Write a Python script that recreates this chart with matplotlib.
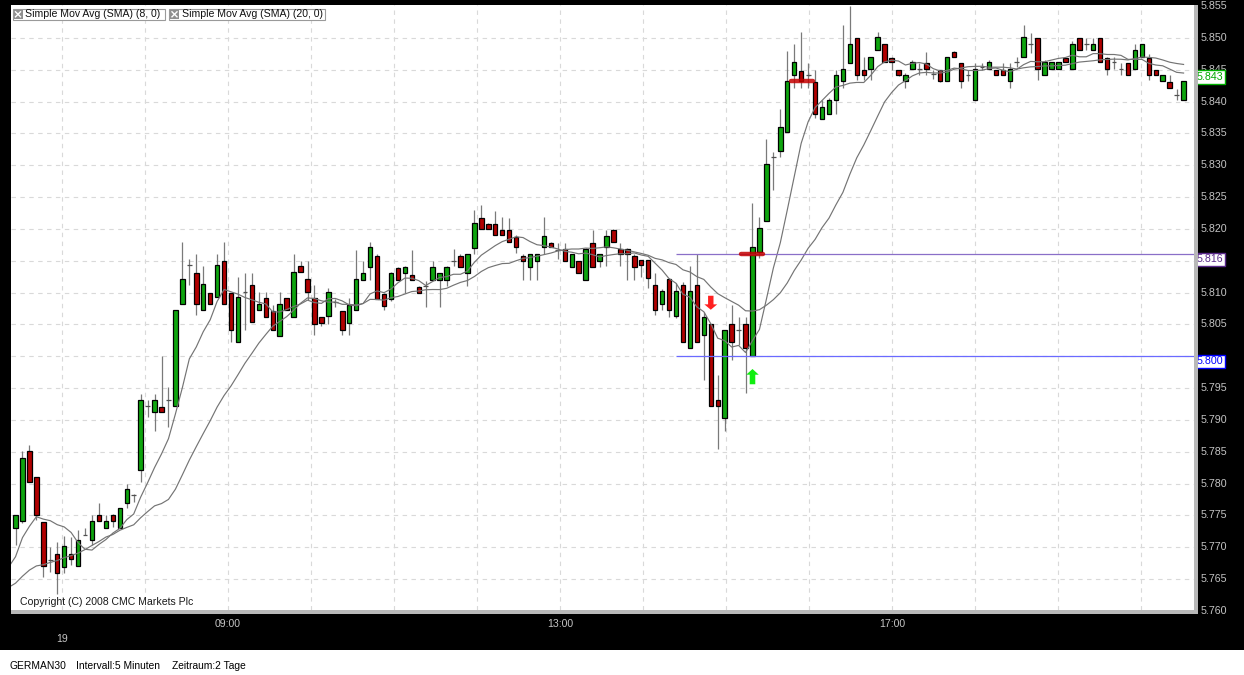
import numpy as np
import pandas as pd
import matplotlib
matplotlib.use("Agg")
import matplotlib.pyplot as plt
from matplotlib.patches import Rectangle
from matplotlib.lines import Line2D

plt.rcParams["font.family"] = ["Liberation Sans", "DejaVu Sans"]

# GERMAN30, 5 minute candles, index points
opens = [
    5773.0, 5774.1, 5785.1, 5781.0, 5773.9, 5768.0, 5768.9, 5766.9, 5768.9, 5767.0,
    5772.0, 5771.1, 5775.0, 5773.1, 5775.0, 5773.1, 5777.0, 5778.2, 5782.1, 5792.2,
    5791.2, 5792.0, 5793.2, 5792.2, 5808.2, 5814.3, 5813.0, 5807.2, 5810.0, 5809.3,
    5815.0, 5810.0, 5802.2, 5810.1, 5811.2, 5807.2, 5809.1, 5807.1, 5803.2, 5809.1,
    5806.2, 5814.1, 5812.1, 5809.1, 5806.1, 5806.3, 5808.5, 5807.1, 5805.2, 5807.3,
    5812.0, 5814.0, 5815.8, 5809.8, 5809.0, 5813.9, 5813.0, 5812.8, 5810.9, 5811.0,
    5812.0, 5812.0, 5812.0, 5815.0, 5815.8, 5813.0, 5817.0, 5821.7, 5820.8, 5820.8,
    5819.9, 5819.9, 5818.8, 5815.8, 5814.0, 5815.0, 5817.1, 5817.8, 5816.7, 5816.9,
    5814.0, 5814.9, 5812.0, 5817.8, 5815.0, 5817.1, 5819.9, 5816.9, 5816.9, 5815.8,
    5815.1, 5815.1, 5811.2, 5808.2, 5812.1, 5806.3, 5811.2, 5801.3, 5811.2, 5803.4,
    5805.0, 5793.1, 5790.3, 5805.0, 5804.2, 5805.0, 5800.1, 5816.3, 5821.2, 5831.3,
    5832.2, 5835.2, 5844.2, 5844.8, 5844.2, 5843.0, 5837.2, 5838.1, 5840.2, 5843.2,
    5846.1, 5849.9, 5844.9, 5845.1, 5848.1, 5849.0, 5846.9, 5844.9, 5843.2, 5845.1,
    5845.1, 5846.0, 5844.3, 5844.9, 5843.2, 5847.8, 5846.0, 5844.1, 5840.2, 5845.5,
    5845.1, 5844.9, 5844.9, 5843.2, 5846.2, 5847.0, 5849.1, 5849.9, 5844.1, 5845.1,
    5845.1, 5846.9, 5845.1, 5849.9, 5849.1, 5848.1, 5849.9, 5846.9, 5846.2, 5845.1,
    5846.0, 5845.1, 5847.0, 5846.9, 5844.9, 5843.2, 5843.0, 5841.0, 5840.2,
]
highs = [
    5775.1, 5785.1, 5786.0, 5781.0, 5774.0, 5770.1, 5770.8, 5771.7, 5771.6, 5772.7,
    5773.0, 5775.0, 5776.9, 5775.0, 5775.3, 5776.1, 5780.0, 5778.4, 5794.0, 5793.1,
    5794.0, 5800.0, 5795.2, 5807.2, 5818.0, 5815.2, 5816.0, 5814.1, 5810.0, 5816.0,
    5818.0, 5810.0, 5812.5, 5813.0, 5813.0, 5810.1, 5810.1, 5808.0, 5810.1, 5809.1,
    5816.0, 5815.0, 5815.0, 5811.2, 5806.1, 5810.7, 5809.0, 5807.1, 5809.1, 5816.7,
    5814.9, 5817.9, 5816.0, 5810.0, 5813.2, 5814.0, 5814.2, 5816.7, 5811.0, 5811.8,
    5814.9, 5813.0, 5814.2, 5816.9, 5816.0, 5816.0, 5822.9, 5823.8, 5821.0, 5822.8,
    5821.9, 5821.7, 5819.0, 5816.0, 5816.0, 5816.0, 5821.8, 5818.0, 5817.8, 5817.8,
    5816.0, 5815.0, 5817.0, 5819.9, 5816.0, 5819.9, 5820.0, 5817.8, 5817.0, 5816.0,
    5815.1, 5815.1, 5813.0, 5810.5, 5812.3, 5811.5, 5811.7, 5814.2, 5816.1, 5807.0,
    5805.0, 5797.1, 5804.2, 5808.1, 5806.2, 5806.2, 5824.1, 5821.9, 5834.1, 5832.1,
    5838.9, 5847.9, 5849.0, 5850.9, 5846.1, 5844.9, 5840.3, 5840.5, 5844.9, 5852.0,
    5855.0, 5849.9, 5847.0, 5847.0, 5850.9, 5849.0, 5847.0, 5845.0, 5844.5, 5846.5,
    5846.0, 5847.8, 5845.0, 5845.0, 5847.0, 5848.0, 5846.0, 5845.0, 5846.0, 5846.0,
    5846.5, 5845.0, 5846.0, 5846.0, 5847.0, 5852.0, 5850.8, 5850.0, 5846.5, 5846.2,
    5846.2, 5847.0, 5849.5, 5850.0, 5849.9, 5849.9, 5850.0, 5847.0, 5847.0, 5846.0,
    5846.0, 5849.1, 5849.1, 5847.5, 5845.0, 5844.1, 5844.1, 5842.0, 5843.2,
]
lows = [
    5770.3, 5773.8, 5780.2, 5774.3, 5765.4, 5766.1, 5762.6, 5766.0, 5767.2, 5767.0,
    5772.0, 5770.3, 5774.1, 5773.1, 5773.2, 5773.1, 5776.1, 5777.1, 5780.2, 5790.5,
    5788.2, 5791.2, 5788.9, 5792.2, 5808.2, 5811.2, 5806.4, 5807.2, 5808.2, 5809.3,
    5808.2, 5802.3, 5802.2, 5804.1, 5805.3, 5807.2, 5806.2, 5804.2, 5803.2, 5807.2,
    5806.2, 5813.2, 5808.8, 5803.3, 5804.8, 5805.0, 5807.8, 5803.3, 5803.3, 5807.3,
    5812.0, 5812.0, 5809.0, 5807.2, 5808.7, 5812.0, 5810.0, 5812.0, 5810.0, 5807.8,
    5812.0, 5807.8, 5811.0, 5814.1, 5814.0, 5811.0, 5816.0, 5820.0, 5820.0, 5819.0,
    5819.0, 5818.0, 5816.2, 5812.0, 5812.0, 5812.0, 5816.0, 5817.1, 5815.2, 5815.0,
    5814.0, 5813.0, 5812.0, 5814.0, 5814.0, 5814.1, 5818.0, 5814.1, 5812.0, 5812.0,
    5812.5, 5810.7, 5806.5, 5807.3, 5806.2, 5806.0, 5802.2, 5801.3, 5802.2, 5796.3,
    5792.2, 5785.4, 5788.2, 5799.4, 5801.8, 5794.2, 5800.1, 5815.4, 5821.2, 5826.1,
    5831.3, 5835.2, 5842.1, 5842.1, 5842.1, 5837.4, 5837.2, 5838.1, 5838.1, 5842.1,
    5846.1, 5843.4, 5843.4, 5843.4, 5848.1, 5846.2, 5844.9, 5844.0, 5842.1, 5845.1,
    5844.1, 5844.1, 5843.6, 5843.0, 5843.2, 5847.0, 5842.1, 5843.2, 5840.2, 5845.0,
    5845.1, 5844.1, 5844.1, 5842.1, 5845.5, 5847.0, 5847.6, 5843.4, 5844.1, 5845.1,
    5845.1, 5846.2, 5845.1, 5848.1, 5848.1, 5848.1, 5846.2, 5844.1, 5845.1, 5844.1,
    5844.1, 5845.1, 5847.0, 5843.4, 5844.1, 5843.2, 5842.1, 5840.2, 5840.2,
]
closes = [
    5775.1, 5784.0, 5780.2, 5775.1, 5767.0, 5768.0, 5766.0, 5770.2, 5768.1, 5771.1,
    5772.0, 5774.1, 5774.1, 5774.1, 5774.1, 5776.1, 5779.1, 5778.2, 5793.2, 5792.2,
    5793.2, 5791.2, 5793.2, 5807.2, 5812.2, 5814.3, 5808.2, 5811.3, 5808.2, 5814.3,
    5808.2, 5804.2, 5809.3, 5810.1, 5805.3, 5808.2, 5806.2, 5804.2, 5808.2, 5807.2,
    5813.2, 5813.2, 5810.1, 5805.1, 5805.2, 5810.1, 5808.5, 5804.1, 5808.1, 5812.2,
    5813.0, 5817.1, 5809.0, 5807.9, 5813.0, 5812.0, 5814.0, 5812.0, 5810.0, 5811.0,
    5814.0, 5813.0, 5814.0, 5815.0, 5814.0, 5816.0, 5821.0, 5820.0, 5820.0, 5819.0,
    5819.0, 5818.0, 5817.1, 5815.0, 5816.0, 5816.0, 5818.9, 5817.1, 5816.7, 5815.0,
    5816.0, 5813.0, 5816.9, 5814.0, 5816.0, 5818.9, 5818.0, 5816.0, 5816.0, 5814.0,
    5814.3, 5812.3, 5807.3, 5810.3, 5807.3, 5810.2, 5802.2, 5810.2, 5802.2, 5806.2,
    5792.2, 5792.2, 5804.2, 5802.2, 5804.2, 5801.3, 5817.2, 5820.2, 5830.2, 5831.3,
    5836.0, 5843.2, 5846.2, 5843.2, 5844.2, 5838.1, 5839.1, 5840.2, 5844.1, 5845.1,
    5849.1, 5844.1, 5844.1, 5847.0, 5850.1, 5846.2, 5846.2, 5844.1, 5844.1, 5846.2,
    5845.1, 5845.1, 5844.3, 5843.2, 5847.0, 5847.0, 5843.2, 5844.1, 5845.1, 5845.5,
    5846.2, 5844.1, 5844.1, 5845.1, 5846.2, 5850.1, 5849.1, 5845.1, 5846.2, 5846.2,
    5846.2, 5846.2, 5849.1, 5848.1, 5849.1, 5849.1, 5846.2, 5845.1, 5846.2, 5845.1,
    5844.1, 5848.1, 5849.1, 5844.1, 5844.1, 5844.1, 5842.1, 5841.0, 5843.2,
]
# closes before the visible window, estimated from where the SMA lines start
prev_closes = [5762, 5762, 5761, 5762, 5763, 5761, 5760, 5761, 5762, 5763,
               5761, 5761, 5762, 5760, 5766, 5763, 5770, 5770, 5771, 5773]

date_label = "19"
time_labels = ["09:00", "13:00", "17:00"]
sma_periods = [8, 20]
level_lines = [(5816.0, "5.816", "#8a6fc8", "#5a2a8a"), (5800.0, "5.800", "#6a6aff", "#0000ff")]
hidden_ticks = [5815, 5800]  # covered by the level boxes
order_marks = [(104.3, 107.5, 5816.0), (111.6, 114.7, 5843.3)]
sell_signal = (100, 5809.5, 5807.3)
buy_signal = (106, 5795.6, 5798.0)

W, H = 1244, 675


def fx(px):
    return px / W


def fy(py):
    return 1 - py / H


fig = plt.figure(figsize=(W / 100, H / 100), dpi=100, facecolor="black")
ax = fig.add_axes([fx(10.5), fy(610), (1194 - 10.5) / W, (610 - 5) / H])
ax.set_facecolor("white")
for s in ax.spines.values():
    s.set_visible(False)
ax.set_xlim(-0.72, 169.5)
ax.set_ylim(5760.15, 5855.16)

hour_pos = 6.69 + 11.94 * np.arange(14)
ax.set_xticks(hour_pos)
ax.set_yticks(np.arange(5765, 5851, 5))
ax.grid(True, color="#d9d9d9", ls=(0, (4, 4)), lw=0.8)
ax.set_axisbelow(True)
ax.tick_params(length=0, labelbottom=False, labelleft=False)

# candles
o = np.array(opens)
h = np.array(highs)
l = np.array(lows)
c = np.array(closes)
idx = np.arange(len(c))
ax.vlines(idx, l, h, color="#7a7a7a", lw=0.9, zorder=2)
flat = np.isclose(o, c)
up = (c > o) & ~flat
dn = (c < o) & ~flat
ax.bar(idx[up], (c - o)[up], bottom=o[up], width=0.64, color="#0ea50e",
       edgecolor="black", lw=0.9, zorder=3)
ax.bar(idx[dn], (o - c)[dn], bottom=c[dn], width=0.64, color="#b10000",
       edgecolor="black", lw=0.9, zorder=3)
ax.hlines(o[flat], idx[flat] - 0.35, idx[flat] + 0.35, color="#505050", lw=0.9, zorder=3)

# moving averages
all_close = pd.Series(prev_closes + closes)
x_all = np.arange(-len(prev_closes), len(closes))
for n in sma_periods:
    sma = all_close.rolling(n).mean()
    ok = sma.notna().values
    ax.plot(x_all[ok], sma.values[ok], color="#747474", lw=0.85, zorder=4)

# support / resistance lines
for val, lab, lcol, tcol in level_lines:
    ax.hlines(val, 95, 169.5, color=lcol, lw=0.9, zorder=4)
    ax.text(1.0025, val, lab, transform=ax.get_yaxis_transform(), va="top", ha="left",
            color=tcol, fontsize=7.7, zorder=10, clip_on=False,
            bbox=dict(boxstyle="square,pad=0.15", fc="white", ec=tcol, lw=1))

for x0, x1, val in order_marks:
    ax.plot([x0, x1], [val, val], color="#c40000", lw=3.2, alpha=0.85,
            solid_capstyle="round", zorder=5)

ax.arrow(sell_signal[0], sell_signal[1], 0, sell_signal[2] - sell_signal[1], width=0.78,
         head_width=1.85, head_length=0.85, length_includes_head=True,
         color="#ff2020", lw=0, zorder=6)
ax.arrow(buy_signal[0], buy_signal[1], 0, buy_signal[2] - buy_signal[1], width=0.8,
         head_width=1.8, head_length=0.9, length_includes_head=True,
         color="#11ee11", lw=0, zorder=6)

# price axis labels
for v in range(5760, 5856, 5):
    if v in hidden_ticks:
        continue
    ax.text(1.0059, v, f"{v / 1000:.3f}", transform=ax.get_yaxis_transform(),
            va="center", ha="left", color="#c4c4c4", fontsize=7.7, clip_on=False)
ax.annotate(f"{closes[-1] / 1000:.3f}", xy=(1.0025, closes[-1]), xycoords=ax.get_yaxis_transform(),
            xytext=(0, 3), textcoords="offset points", va="center", ha="left",
            color="#00a800", fontsize=7.7, zorder=10, annotation_clip=False,
            bbox=dict(boxstyle="square,pad=0.15", fc="white", ec="#00b000", lw=1))

# time axis labels
for pos, lab in zip(hour_pos[[2, 6, 10]], time_labels):
    ax.text(pos, -0.0231, lab, transform=ax.get_xaxis_transform(), ha="center",
            va="center", color="#c4c4c4", fontsize=7.6, clip_on=False)
ax.text(hour_pos[0], -0.0479, date_label, transform=ax.get_xaxis_transform(), ha="center",
        va="center", color="#c4c4c4", fontsize=7.6, clip_on=False)

# frame shadow
fig.add_artist(Rectangle((fx(10.5), fy(614)), (1198 - 10.5) / W, 4 / H,
                         transform=fig.transFigure, fc="#b8b8b8", ec="none"))
fig.add_artist(Rectangle((fx(1194), fy(614)), 4 / W, (614 - 5) / H,
                         transform=fig.transFigure, fc="#b8b8b8", ec="none"))

# legend boxes of the indicators
def header_box(x0, x1, text):
    fig.add_artist(Rectangle((fx(x0), fy(19.5)), (x1 - x0) / W, 10.5 / H,
                             transform=fig.transFigure, fc="white", ec="#9a9a9a", lw=0.8))
    fig.add_artist(Rectangle((fx(x0 + 1), fy(18.8)), 9 / W, 9 / H,
                             transform=fig.transFigure, fc="#8f8f8f", ec="none"))
    fig.add_artist(Line2D([fx(x0 + 3), fx(x0 + 8)], [fy(11.8), fy(16.8)],
                          transform=fig.transFigure, color="white", lw=1))
    fig.add_artist(Line2D([fx(x0 + 3), fx(x0 + 8)], [fy(16.8), fy(11.8)],
                          transform=fig.transFigure, color="white", lw=1))
    fig.text(fx(x0 + 12.5), fy(14.4), text, fontsize=7.6, va="center", ha="left", color="#111111")


header_box(12.5, 164.5, "Simple Mov Avg (SMA) (8, 0)")
header_box(169.0, 324.5, "Simple Mov Avg (SMA) (20, 0)")

fig.text(fx(20), fy(602), "Copyright (C) 2008 CMC Markets Plc", fontsize=7.6,
         va="center", ha="left", color="#1a1a1a")

# footer strip
fig.add_artist(Rectangle((0, 0), 1, 25 / H, transform=fig.transFigure, fc="white", ec="none"))
fig.text(fx(10), fy(666), "GERMAN30", fontsize=7.4, va="center", ha="left", color="black")
fig.text(fx(76), fy(666), "Intervall:5 Minuten", fontsize=7.4, va="center", ha="left", color="black")
fig.text(fx(172), fy(666), "Zeitraum:2 Tage", fontsize=7.4, va="center", ha="left", color="black")

fig.savefig("out.png", dpi=100, facecolor=fig.get_facecolor())
